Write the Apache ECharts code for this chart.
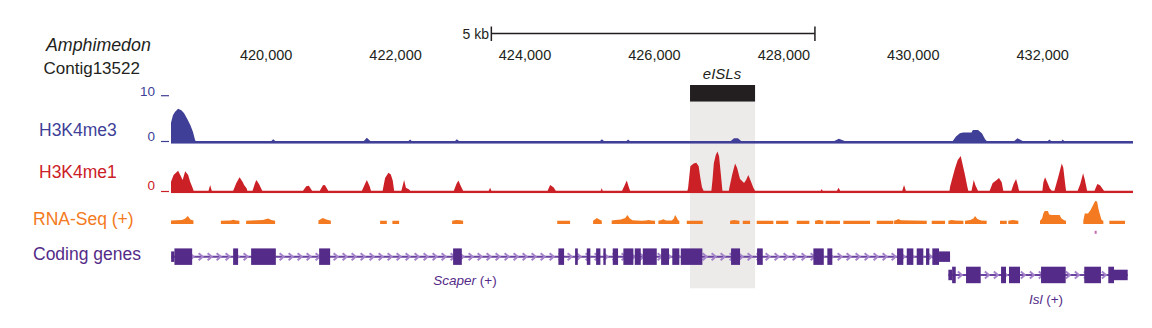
<!DOCTYPE html>
<html><head><meta charset="utf-8">
<script src="https://cdn.jsdelivr.net/npm/echarts@6/dist/echarts.min.js"></script>
<style>html,body{margin:0;padding:0;background:#fff}#c{width:1152px;height:328px}</style>
</head><body><div id="c"></div>
<script>
// ---- data (genomic coordinates, Amphimedon Contig13522) ----
const tickLabels = [420000, 422000, 424000, 426000, 428000, 430000, 432000];
const viewRange = [418530, 433395];
const scaleBar = [423480, 428480];          // 5 kb
const highlight = [426550, 427555];         // eISLs
// H3K4me3 signal [position, value] (view limit 0-10)
const h3k4me3 = [
 [418530,4.0],[418560,5.7],[418590,6.4],[418640,7.1],[418690,6.8],[418730,6.2],[418780,4.9],[418830,3.5],[418870,2.0],[418900,0.3],[418910,0],
 [420080,0],[420110,0.4],[420140,0],
 [421510,0],[421556,0.7],[421610,0],
 [422200,0],[422225,0.3],[422250,0],
 [422920,0],[422946,0.4],[422980,0],
 [425160,0],[425187,0.4],[425220,0],
 [425570,0],[425593,0.3],[425620,0],
 [427180,0],[427230,0.6],[427290,0.6],[427340,0],
 [428780,0],[428850,0.5],[428940,0],
 [430610,0],[430660,1.0],[430720,1.7],[430770,1.9],[430900,1.9],[430920,2.4],[431000,2.4],[431060,1.7],[431110,0.4],[431135,0],
 [431560,0],[431610,0.6],[431690,0],
 [432080,0],[432102,0.3],[432130,0],
 [432290,0],[432309,0.3],[432330,0],
 [433395,0]
];
// H3K4me1 signal [position, value] (view limit 0-10)
const h3k4me1 = [
 [418530,2.0],[418570,3.5],[418640,4.4],[418690,3.0],[418710,2.4],[418749,4.3],[418795,3.5],[418826,2.0],[418868,0.5],[418880,0],
 [419110,0],[419135,1.3],[419160,0],
 [419490,0],[419540,1.7],[419590,3.0],[419640,1.9],[419660,1.3],[419700,0.5],[419710,0],
 [419790,0],[419830,1.8],[419850,2.4],[419890,1.5],[419940,0],
 [420570,0],[420620,1.0],[420660,1.1],[420710,0],
 [420830,0],[420880,1.3],[420910,1.2],[420960,0],
 [421480,0],[421520,1.3],[421556,2.4],[421600,1.0],[421620,0],
 [421800,0],[421838,2.8],[421890,4.0],[421927,3.6],[421957,2.2],[421978,0],
 [422090,0],[422132,2.4],[422160,0.7],[422210,0.3],[422225,0],
 [422900,0],[422940,1.5],[422971,2.3],[423010,1.0],[423044,0],
 [423440,0],[423461,0.7],[423480,0],
 [424350,0],[424388,1.3],[424440,0.8],[424476,0],
 [425170,0],[425187,0.6],[425200,0],
 [425500,0],[425540,1.2],[425573,2.3],[425600,1.0],[425624,0],
 [426510,0],[426520,0.6],[426555,5.4],[426606,6.0],[426648,6.2],[426684,5.4],[426710,2.8],[426735,0.8],[426760,0],
 [426880,0],[426897,2.4],[426918,6.1],[426948,7.9],[426974,8.7],[426999,7.6],[427025,3.9],[427051,0],
 [427150,0],[427158,0.7],[427200,3.5],[427246,6.0],[427277,5.1],[427323,2.6],[427385,1.7],[427416,2.4],[427451,3.5],[427493,2.0],[427529,0.7],[427555,0],
 [428570,0],[428585,0.4],[428600,0],
 [428820,0],[428846,0.7],[428870,0],
 [429830,0],[429857,1.3],[429885,0],
 [430560,0],[430568,0.9],[430604,2.8],[430645,5.0],[430687,6.8],[430733,7.7],[430764,5.7],[430799,3.5],[430835,0.9],[430850,0],
 [430900,0],[430934,2.4],[430960,1.2],[431000,0],
 [431180,0],[431227,1.7],[431289,2.4],[431324,2.8],[431366,1.9],[431391,0],
 [431515,0],[431550,1.5],[431588,2.6],[431615,1.2],[431634,0],
 [431995,0],[432010,1.9],[432036,3.0],[432070,1.9],[432110,0.5],[432140,0],
 [432180,0],[432241,3.1],[432294,6.0],[432318,5.1],[432345,1.8],[432360,0],
 [432540,0],[432580,1.5],[432624,3.9],[432650,2.5],[432686,0],
 [432800,0],[432844,1.5],[432885,1.2],[432947,0],
 [433395,0]
];
// RNA-Seq (+) covered segments [position, value]
const rnaSeqSegments = [
 [[418530,1.0],[418700,1.5],[418750,3.0],[418790,5.5],[418830,2.0],[418877,1.0]],
 [[419301,0.8],[419450,1.0],[419490,1.8],[419540,1.0],[419587,0.8]],
 [[419691,0.8],[419850,1.2],[419950,1.5],[420031,3.0],[420080,1.5],[420139,0.8]],
 [[420808,1.0],[420850,2.5],[420876,3.5],[420930,2.0],[421000,0.8]],
 [[421761,0.8],[421865,0.8]],
 [[421951,0.8],[422055,0.8]],
 [[422874,0.8],[422940,1.5],[423000,1.2],[423044,0.8]],
 [[424498,0.8],[424697,0.8]],
 [[425052,0.8],[425090,2.5],[425110,3.5],[425150,2.0],[425187,0.8]],
 [[425340,1.0],[425400,1.5],[425480,2.0],[425550,3.5],[425582,6.5],[425620,3.0],[425660,1.2],[425800,0.8],[425870,1.0],[425907,1.5],[425950,1.0],[426010,0.8]],
 [[426061,0.8],[426100,1.2],[426138,2.2],[426180,1.0],[426270,1.0],[426300,3.0],[426319,6.5],[426345,4.0],[426365,1.2],[426385,0.8]],
 [[426500,0.8],[426747,0.8]],
 [[427169,0.8],[427230,1.5],[427313,0.8]],
 [[427365,0.8],[427478,0.8]],
 [[427581,0.8],[427838,0.8]],
 [[427880,0.8],[428070,0.8]],
 [[428199,0.8],[428394,0.8]],
 [[428482,0.8],[428540,1.5],[428610,0.8]],
 [[428646,0.8],[428867,0.8]],
 [[428919,0.8],[429332,0.8]],
 [[429435,0.8],[429692,0.8]],
 [[429703,0.8],[429740,1.5],[429769,2.5],[429810,1.2],[430000,1.0],[430208,0.8]],
 [[430285,0.8],[430491,0.8]],
 [[430542,0.8],[430594,1.5],[430650,1.0],[430774,0.8]],
 [[430799,0.8],[430880,1.5],[430930,3.0],[430954,5.5],[430990,2.5],[431050,1.0],[431134,0.8]],
 [[431340,0.8],[431444,0.8]],
 [[431468,0.8],[431540,1.5],[431623,0.8]],
 [[431958,0.8],[431990,3.0],[432010,8.0],[432030,10.5],[432080,10.5],[432100,7.0],[432140,6.5],[432260,6.5],[432290,3.0],[432340,1.0],[432360,0.8]],
 [[432627,0.8],[432650,8.0],[432700,8.0],[432740,11.5],[432790,18.0],[432810,20.5],[432840,20.0],[432860,13.0],[432880,8.0],[432910,1.5],[432937,0.8]],
 [[433030,0.8],[433272,0.8]]
];
const rnaOverflow = [[432818, -10.8]];
// gene models
const scaperSpan = [418532, 430568];
const scaperUTRs = [[418532,418583],[430398,430568]];
const scaperExons = [
 [418583,418857],[419490,419567],[419768,420150],[420819,420989],[422889,423024],
 [424516,424604],[424774,424816],[424955,425010],[425099,425165],[425211,425248],
 [425356,425438],[425520,425675],[425696,425789],[425820,426036],[426103,426226],
 [426276,426385],[426407,426741],[427184,427323],[427586,427674],[428456,428617],
 [428672,428749],[429749,429846],[429899,430001],[430053,430155],[430197,430248],
 [430294,430398]
];
const islSpan = [430542, 433313];
const islUTRs = [[430542,430600],[433101,433313]];
const islExons = [
 [430600,430656],[430815,431042],[431356,431433],[431479,431649],
 [431974,432355],[432642,432900],[433013,433101]
];

// ---- build ----
const FONT = '"Liberation Sans", Arial, Helvetica, sans-serif';
const BLUE = '#403f98', RED = '#cc2027', ORANGE = '#f37a21', PURPLE = '#542b88', DARK = '#231f20';
const SCAPER_ROW = 1.5, ISL_ROW = 0.5;

const rnaData = [];
rnaSeqSegments.forEach((seg, i) => {
  if (i > 0) rnaData.push([seg[0][0] - 1, '-']);
  seg.forEach(p => rnaData.push(p));
});

const geneData = [];
geneData.push([scaperSpan[0], scaperSpan[1], SCAPER_ROW, 0]);
geneData.push([islSpan[0], islSpan[1], ISL_ROW, 0]);
scaperUTRs.forEach(u => geneData.push([u[0], u[1], SCAPER_ROW, 1]));
islUTRs.forEach(u => geneData.push([u[0], u[1], ISL_ROW, 1]));
scaperExons.forEach(e => geneData.push([e[0], e[1], SCAPER_ROW, 2]));
islExons.forEach(e => geneData.push([e[0], e[1], ISL_ROW, 2]));

const L = 171, R = 19;
const grids = [
  {left:L, right:R, top:85, height:203.3},     // 0 highlight
  {left:L, right:R, top:20, height:21},        // 1 ruler
  {left:L, right:R, top:95.7, height:48},      // 2 H3K4me3
  {left:L, right:R, top:145.5, height:47.8},   // 3 H3K4me1
  {left:L, right:R, top:199, height:25},       // 4 RNA-seq
  {left:L, right:R, top:247.5, height:36.6}    // 5 genes
];
const xAxes = grids.map((g, i) => ({
  type:'value', gridIndex:i, min:viewRange[0], max:viewRange[1],
  show: i === 1, axisLine:{show:false}, axisTick:{show:false}, splitLine:{show:false},
  axisLabel: i === 1 ? {show:true, customValues: tickLabels, margin:6, color:DARK,
    fontSize:14.5, fontFamily:FONT, formatter: v => v.toLocaleString('en-US')} : {show:false}
}));
const yRanges = [[0,1],[0,1],[-0.6,10],[-0.55,10],[-2.5,22.5],[0,2]];
const yAxes = yRanges.map((r, i) => ({type:'value', gridIndex:i, min:r[0], max:r[1], show:false}));

function areaSeries(data, idx, color) {
  return {type:'line', xAxisIndex:idx, yAxisIndex:idx, data, showSymbol:false, symbol:'none',
    connectNulls:false, lineStyle:{width:0}, itemStyle:{color},
    areaStyle:{color, opacity:1, origin:'start'}, z:3, silent:true};
}

const option = {
  animation:false,
  grid: grids, xAxis: xAxes, yAxis: yAxes,
  series: [
    {type:'custom', xAxisIndex:0, yAxisIndex:0, data:[highlight], z:1, silent:true,
     renderItem(params, api) {
       const cs = params.coordSys;
       const a = api.coord([api.value(0), 0])[0], b = api.coord([api.value(1), 0])[0];
       return {type:'group', children:[
         {type:'rect', shape:{x:a, y:cs.y, width:b-a, height:16.7}, style:{fill:DARK}},
         {type:'rect', shape:{x:a, y:cs.y+16.7, width:b-a, height:cs.height-16.7}, style:{fill:'#ecebea'}}
       ]};
     }},
    {type:'custom', xAxisIndex:1, yAxisIndex:1, data:[scaleBar], z:3, silent:true,
     renderItem(params, api) {
       const a = api.coord([api.value(0), 0])[0], b = api.coord([api.value(1), 0])[0];
       const st = {stroke:DARK, lineWidth:1.5};
       return {type:'group', children:[
         {type:'line', shape:{x1:a, y1:33.5, x2:b, y2:33.5}, style:st},
         {type:'line', shape:{x1:a, y1:26.5, x2:a, y2:41}, style:st},
         {type:'line', shape:{x1:b, y1:26.5, x2:b, y2:41}, style:st}
       ]};
     }},
    areaSeries(h3k4me3, 2, BLUE),
    areaSeries(h3k4me1, 3, RED),
    areaSeries(rnaData, 4, ORANGE),
    {type:'scatter', xAxisIndex:4, yAxisIndex:4, data:rnaOverflow, symbol:'rect', symbolSize:[2,3],
     itemStyle:{color:'#b5449c'}, clip:false, z:3, silent:true},
    {type:'custom', xAxisIndex:5, yAxisIndex:5, data:geneData, z:3, silent:true, clip:false,
     encode:{x:[0,1], y:2},
     renderItem(params, api) {
       const p0 = api.coord([api.value(0), api.value(2)]);
       const p1 = api.coord([api.value(1), api.value(2)]);
       const y = p0[1], kind = api.value(3);
       if (kind === 0) {
         const ch = [{type:'line', shape:{x1:p0[0], y1:y, x2:p1[0], y2:y}, style:{stroke:'#6a43a0', lineWidth:2}}];
         for (let x = p0[0] + 12; x < p1[0] - 3; x += 9) {
           ch.push({type:'polyline', shape:{points:[[x-2.5, y-3.5], [x+1.5, y], [x-2.5, y+3.5]]},
             style:{stroke:'#a583ca', lineWidth:2, fill:null}});
         }
         return {type:'group', children:ch};
       }
       const h = kind === 2 ? 16.5 : 10.5;
       return {type:'rect', shape:{x:p0[0], y:y - h/2, width:Math.max(p1[0]-p0[0], 1), height:h},
         style:{fill:PURPLE}};
     }}
  ],
  graphic: [
    {type:'text', x:46, y:45, style:{text:'Amphimedon', font:'italic 17.8px ' + FONT, fill:DARK, textAlign:'left', textVerticalAlign:'middle'}},
    {type:'text', x:43.5, y:68.5, style:{text:'Contig13522', font:'17px ' + FONT, fill:DARK, textAlign:'left', textVerticalAlign:'middle'}},
    {type:'text', x:489, y:34, style:{text:'5 kb', font:'14px ' + FONT, fill:DARK, textAlign:'right', textVerticalAlign:'middle'}},
    {type:'text', x:722, y:73, style:{text:'eISLs', font:'italic 15px ' + FONT, fill:DARK, textAlign:'center', textVerticalAlign:'middle'}},
    {type:'text', x:39, y:130, style:{text:'H3K4me3', font:'17.5px ' + FONT, fill:BLUE, textAlign:'left', textVerticalAlign:'middle'}},
    {type:'text', x:39, y:172, style:{text:'H3K4me1', font:'17.5px ' + FONT, fill:RED, textAlign:'left', textVerticalAlign:'middle'}},
    {type:'text', x:33, y:218.5, style:{text:'RNA-Seq (+)', font:'17.5px ' + FONT, fill:ORANGE, textAlign:'left', textVerticalAlign:'middle'}},
    {type:'text', x:33, y:253.5, style:{text:'Coding genes', font:'17.5px ' + FONT, fill:PURPLE, textAlign:'left', textVerticalAlign:'middle'}},
    {type:'text', x:155, y:91, style:{text:'10', font:'13.5px ' + FONT, fill:BLUE, textAlign:'right', textVerticalAlign:'middle'}},
    {type:'text', x:155, y:136, style:{text:'0', font:'13.5px ' + FONT, fill:BLUE, textAlign:'right', textVerticalAlign:'middle'}},
    {type:'text', x:155, y:185.5, style:{text:'0', font:'13.5px ' + FONT, fill:RED, textAlign:'right', textVerticalAlign:'middle'}},
    {type:'line', shape:{x1:161, y1:95.7, x2:169, y2:95.7}, style:{stroke:BLUE, lineWidth:1.2}},
    {type:'line', shape:{x1:161, y1:141.5, x2:169, y2:141.5}, style:{stroke:BLUE, lineWidth:1.2}},
    {type:'line', shape:{x1:161, y1:191.5, x2:169, y2:191.5}, style:{stroke:RED, lineWidth:1.2}},
    {type:'text', x:465, y:280, style:{text:'{i|Scaper} (+)', font:'13.5px ' + FONT, fill:PURPLE, textAlign:'center', textVerticalAlign:'middle',
      rich:{i:{fontStyle:'italic', fontSize:13.5, fontFamily:FONT, fill:PURPLE}}}},
    {type:'text', x:1046, y:299, style:{text:'{i|Isl} (+)', font:'13.5px ' + FONT, fill:PURPLE, textAlign:'center', textVerticalAlign:'middle',
      rich:{i:{fontStyle:'italic', fontSize:13.5, fontFamily:FONT, fill:PURPLE}}}}
  ]
};
const chart = echarts.init(document.getElementById('c'), null, {renderer:'svg', width:1152, height:328});
chart.setOption(option);
</script></body></html>
